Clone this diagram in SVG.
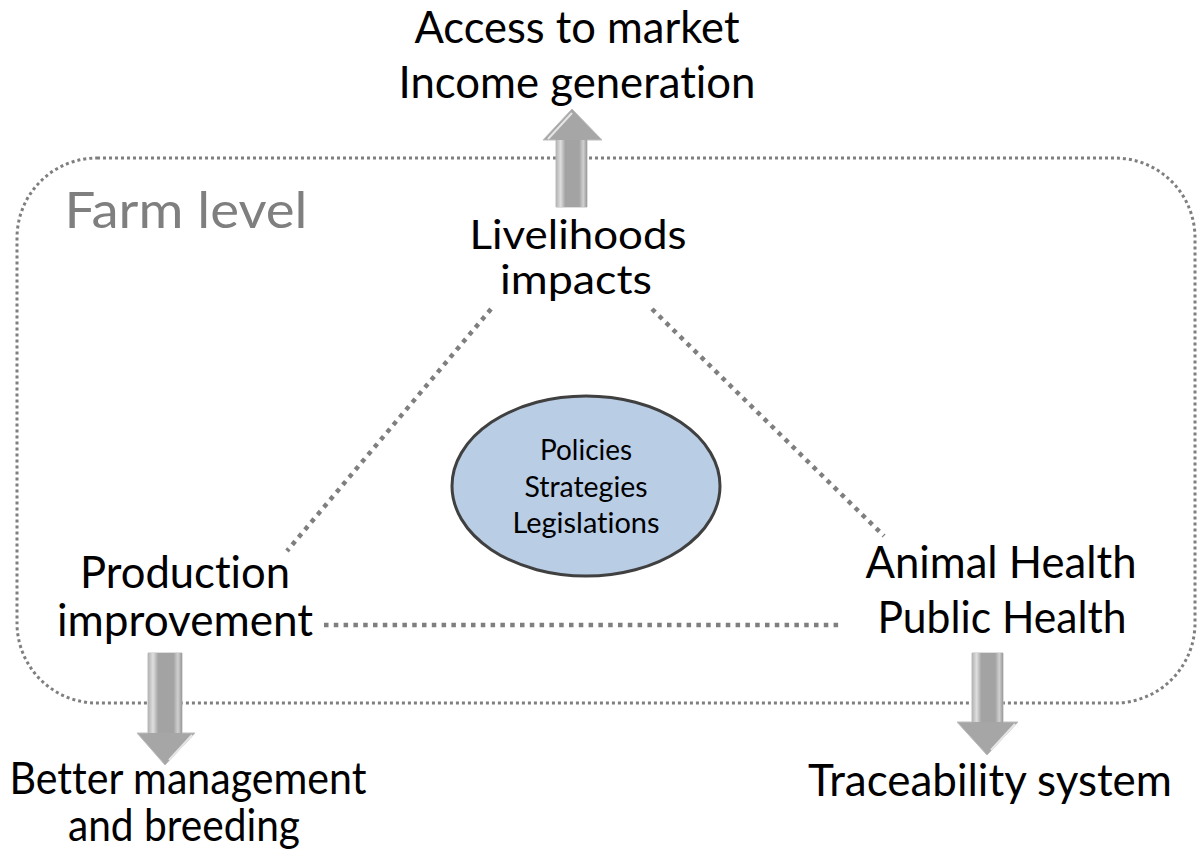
<svg xmlns="http://www.w3.org/2000/svg" width="1197" height="849" viewBox="0 0 1197 849">
<defs>
<style>
.t{font-family:Lato,"Open Sans","Liberation Sans",sans-serif;fill:#000;text-anchor:middle;font-variant-ligatures:none}
.big{font-size:44px}
.sm{font-size:28px}
.dot{fill:none;stroke:#7f7f7f;stroke-width:4.5;stroke-dasharray:4.5 5.3}
.frame{fill:none;stroke:#7f7f7f;stroke-width:3;stroke-dasharray:3 3}
.arr{fill:#a6a6a6;stroke:#bdbdbd;stroke-width:1}
.hl{fill:none;stroke:#e6e6e6;stroke-width:2}
</style>
<linearGradient id="shaft" x1="0" y1="0" x2="1" y2="0">
<stop offset="0" stop-color="#b3b3b3"/>
<stop offset="0.15" stop-color="#dedede"/>
<stop offset="0.3" stop-color="#a3a3a3"/>
<stop offset="0.75" stop-color="#a3a3a3"/>
<stop offset="0.88" stop-color="#d0d0d0"/>
<stop offset="1" stop-color="#999"/>
</linearGradient>
</defs>
<rect x="0" y="0" width="1197" height="849" fill="#fff"/>

<g id="frame">
<rect class="frame" x="17" y="158" width="1178" height="545" rx="80" ry="80"/>
<text x="186" y="228" class="t" style="fill:#7f7f7f;font-size:50px" textLength="243" lengthAdjust="spacingAndGlyphs">Farm level</text>
</g>

<g id="connectors">
<line class="dot" x1="491" y1="309" x2="287" y2="551"/>
<line class="dot" x1="652" y1="309" x2="884" y2="536"/>
<line class="dot" x1="324" y1="625" x2="840" y2="625"/>
</g>

<g id="arrow-up">
<path class="arr" d="M572,109 L602,140 L587,140 L587,207 L556,207 L556,140 L543,140 Z"/>
<rect x="556" y="140" width="31" height="67" fill="url(#shaft)"/>
<path class="hl" d="M548,139 L572,113"/>
</g>
<g id="arrow-left">
<path class="arr" d="M148,653 L182,653 L182,733 L195,733 L165,765 L137,733 L148,733 Z"/>
<rect x="148" y="653" width="34" height="80" fill="url(#shaft)"/>
<path class="hl" d="M169,760 L192,735"/>
</g>
<g id="arrow-right">
<path class="arr" d="M972,653 L1003,653 L1003,722 L1018,722 L987,755 L957,722 L972,722 Z"/>
<rect x="972" y="653" width="31" height="69" fill="url(#shaft)"/>
<path class="hl" d="M991,750 L1015,724"/>
</g>

<g id="top-node">
<text class="t big"><tspan x="577" y="43" textLength="325" lengthAdjust="spacingAndGlyphs">Access to market</tspan><tspan x="577" y="98" textLength="357" lengthAdjust="spacingAndGlyphs">Income generation</tspan></text>
</g>
<g id="livelihoods">
<text class="t" style="font-size:41px"><tspan x="578" y="249" textLength="217" lengthAdjust="spacingAndGlyphs">Livelihoods</tspan><tspan x="576" y="294" textLength="152" lengthAdjust="spacingAndGlyphs">impacts</tspan></text>
</g>
<g id="production">
<text class="t big"><tspan x="185" y="588" textLength="210" lengthAdjust="spacingAndGlyphs">Production</tspan><tspan x="185" y="636" textLength="256" lengthAdjust="spacingAndGlyphs">improvement</tspan></text>
</g>
<g id="health">
<text class="t big"><tspan x="1001" y="578" textLength="271" lengthAdjust="spacingAndGlyphs">Animal Health</tspan><tspan x="1002" y="633" textLength="249" lengthAdjust="spacingAndGlyphs">Public Health</tspan></text>
</g>
<g id="policies">
<ellipse cx="586" cy="486" rx="134" ry="90" fill="#b9cde5" stroke="#404040" stroke-width="3"/>
<text class="t sm"><tspan x="586" y="460" textLength="92" lengthAdjust="spacingAndGlyphs">Policies</tspan><tspan x="586" y="497" textLength="123" lengthAdjust="spacingAndGlyphs">Strategies</tspan><tspan x="586" y="533" textLength="147" lengthAdjust="spacingAndGlyphs">Legislations</tspan></text>
</g>
<g id="better">
<text class="t big"><tspan x="188" y="794" textLength="357" lengthAdjust="spacingAndGlyphs">Better management</tspan><tspan x="184" y="841" textLength="232" lengthAdjust="spacingAndGlyphs">and breeding</tspan></text>
</g>
<g id="traceability">
<text class="t big" x="990" y="796" textLength="364" lengthAdjust="spacingAndGlyphs">Traceability system</text>
</g>
</svg>
